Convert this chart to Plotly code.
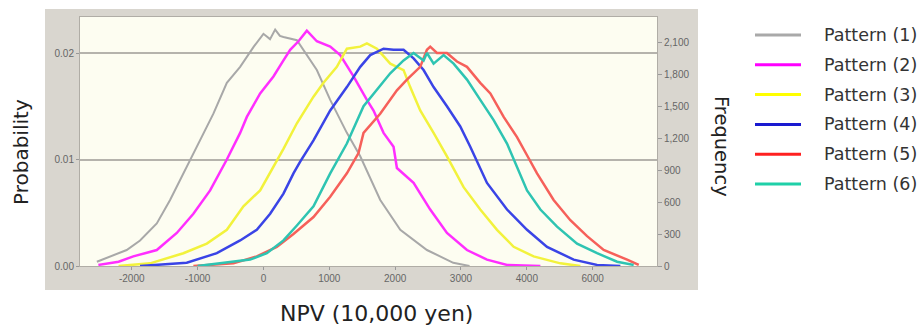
import plotly.graph_objects as go

# ---- data (probability vs NPV in 10,000 yen) ----
names = ["Pattern (1)", "Pattern (2)", "Pattern (3)", "Pattern (4)", "Pattern (5)", "Pattern (6)"]

p1_x = [-2530, -2330, -2077, -1874, -1620, -1418, -1240, -1114, -962, -760, -556, -354, -147, 0, 100, 178, 250, 304, 508, 811, 1014, 1267, 1470, 1774, 2078, 2483, 2883, 3130]
p1_y = [0.0004, 0.0009, 0.0015, 0.0024, 0.0040, 0.0062, 0.0084, 0.0100, 0.0118, 0.0143, 0.0172, 0.0187, 0.0206, 0.0218, 0.0213, 0.0222, 0.0216, 0.0215, 0.0212, 0.0184, 0.0156, 0.0125, 0.0103, 0.0062, 0.0034, 0.0015, 0.0003, 0.0]

p2_x = [-2507, -2200, -1976, -1620, -1316, -1064, -810, -556, -354, -252, -50, 152, 304, 406, 532, 659, 811, 1014, 1166, 1368, 1571, 1672, 1824, 1976, 2027, 2280, 2533, 2787, 3091, 3395, 3699, 4206]
p2_y = [0.0001, 0.0004, 0.0009, 0.0015, 0.0031, 0.0049, 0.0071, 0.0100, 0.0125, 0.0140, 0.0162, 0.0178, 0.0193, 0.0203, 0.0211, 0.0221, 0.0211, 0.0206, 0.0198, 0.0178, 0.0156, 0.0146, 0.0125, 0.0112, 0.0092, 0.0078, 0.0053, 0.0031, 0.0015, 0.0006, 0.0001, 0.0]

p3_x = [-2200, -1722, -1216, -860, -556, -304, -50, 152, 304, 508, 760, 912, 1115, 1267, 1470, 1571, 1723, 1926, 2128, 2229, 2381, 2584, 2787, 3040, 3293, 3547, 3800, 4103, 4509, 4813]
p3_y = [0.0, 0.00025, 0.0012, 0.0021, 0.0034, 0.0056, 0.0071, 0.0093, 0.0110, 0.0134, 0.0159, 0.0172, 0.0187, 0.0204, 0.0206, 0.0209, 0.0204, 0.0190, 0.0184, 0.0168, 0.0146, 0.0125, 0.0103, 0.0074, 0.0053, 0.0034, 0.0018, 0.0009, 0.00025, 0.0]

p4_x = [-1874, -1165, -708, -354, -101, 102, 304, 456, 558, 760, 1014, 1267, 1470, 1622, 1824, 1976, 2128, 2280, 2432, 2584, 2787, 2989, 3141, 3293, 3395, 3699, 4003, 4307, 4711, 5066, 5421]
p4_y = [0.0, 0.0003, 0.0012, 0.0024, 0.0034, 0.0049, 0.0068, 0.0087, 0.0098, 0.0118, 0.0146, 0.0168, 0.0187, 0.0198, 0.0204, 0.0203, 0.0203, 0.0195, 0.0184, 0.0168, 0.0150, 0.0131, 0.0112, 0.0092, 0.0078, 0.0053, 0.0034, 0.0018, 0.0006, 0.0001, 0.0]

p5_x = [-1064, -456, -101, 203, 456, 760, 1014, 1267, 1444, 1520, 1773, 2027, 2179, 2381, 2483, 2533, 2635, 2787, 2939, 3091, 3293, 3446, 3648, 3851, 4003, 4155, 4407, 4661, 4915, 5167, 5523, 5700]
p5_y = [0.0, 0.00025, 0.0009, 0.0018, 0.0030, 0.0046, 0.0065, 0.0087, 0.0106, 0.0125, 0.0143, 0.0165, 0.0175, 0.0187, 0.0203, 0.0206, 0.0200, 0.0200, 0.0192, 0.0187, 0.0172, 0.0162, 0.0140, 0.0121, 0.0104, 0.0087, 0.0062, 0.0043, 0.0028, 0.0015, 0.0006, 0.0001]

p6_x = [-1000, -202, 52, 304, 508, 760, 1014, 1267, 1520, 1672, 1926, 2128, 2280, 2432, 2483, 2584, 2736, 2888, 3091, 3293, 3496, 3699, 3851, 3950, 4003, 4206, 4459, 4763, 5067, 5371, 5623]
p6_y = [0.0, 0.0006, 0.0012, 0.0024, 0.0038, 0.0056, 0.0087, 0.0115, 0.0150, 0.0162, 0.0181, 0.0193, 0.0200, 0.0193, 0.0200, 0.0190, 0.0198, 0.0190, 0.0175, 0.0156, 0.0137, 0.0115, 0.0093, 0.0080, 0.0071, 0.0053, 0.0037, 0.0021, 0.0012, 0.0004, 0.0001]

x_tickvals = [-2000, -1000, 0, 1000, 2000, 3000, 4000, 5000]
x_ticktext = ["-2000", "-1000", "0", "1000", "2000", "3000", "4000", "6000"]
prob_tickvals = [0.0, 0.01, 0.02]
prob_ticktext = ["0.00", "0.01", "0.02"]
freq_tickvals = [0, 300, 600, 900, 1200, 1500, 1800, 2100]
freq_ticktext = ["0", "300", "600", "900", "1,200", "1,500", "1,800", "2,100"]

colors = ["#a8a8a8", "#ff2eff", "#f2f23c", "#3a44e6", "#f6605a", "#2ec4b2"]
legend_colors = ["#a9a9a9", "#ff00ff", "#ffff00", "#1a1ad0", "#ff2020", "#1fd0a8"]
widths = [2, 2.5, 2.5, 2.5, 2.5, 2.5]

series = [(p1_x, p1_y), (p2_x, p2_y), (p3_x, p3_y), (p4_x, p4_y), (p5_x, p5_y), (p6_x, p6_y)]

fig = go.Figure()
for i, (xs, ys) in enumerate(series):
    fig.add_trace(go.Scatter(x=xs, y=ys, mode="lines", name=names[i], showlegend=False,
                             line=dict(color=colors[i], width=widths[i])))
# empty trace to anchor the frequency axis
fig.add_trace(go.Scatter(x=[], y=[], yaxis="y2", showlegend=False, hoverinfo="skip"))

tick_font = dict(family="Liberation Sans, Arial", size=10, color="#666666")
title_font = "DejaVu Sans"

# plot area is 577 x 249 px at page offset (80, 17)
PW, PH = 577.0, 249.0
def px(xp):
    return (xp - 80) / PW
def py(yp):
    return (266 - yp) / PH

shapes = [
    dict(type="rect", xref="paper", yref="paper", x0=px(45), x1=px(698), y0=py(290), y1=py(9),
         fillcolor="#d9d6cf", line=dict(width=0), layer="below"),
    dict(type="rect", xref="paper", yref="paper", x0=0, x1=1, y0=0, y1=1,
         fillcolor="#fdfdf1", line=dict(width=0), layer="below"),
]
annotations = [
    dict(text="Probability", xref="paper", yref="paper", x=px(21), y=py(152),
         xanchor="center", yanchor="middle", textangle=-90, showarrow=False,
         font=dict(family=title_font, size=20, color="#222222")),
    dict(text="Frequency", xref="paper", yref="paper", x=px(722), y=py(146),
         xanchor="center", yanchor="middle", textangle=90, showarrow=False,
         font=dict(family=title_font, size=19.5, color="#222222")),
    dict(text="NPV (10,000 yen)", xref="paper", yref="paper", x=px(376), y=py(313),
         xanchor="center", yanchor="middle", showarrow=False,
         font=dict(family=title_font, size=22, color="#222222")),
]
for i, nm in enumerate(names):
    yy = 35 + i * 29.8
    shapes.append(dict(type="line", xref="paper", yref="paper", x0=px(755), x1=px(801),
                       y0=py(yy), y1=py(yy), line=dict(color=legend_colors[i], width=3)))
    annotations.append(dict(text=nm, xref="paper", yref="paper", x=px(822), y=py(yy),
                            xanchor="left", yanchor="middle", showarrow=False,
                            font=dict(family=title_font, size=17.5, color="#333333")))

fig.update_layout(
    width=920, height=326,
    margin=dict(l=80, r=263, t=17, b=60, autoexpand=False),
    paper_bgcolor="white",
    plot_bgcolor="#fdfdf1",
    font=dict(family="Open Sans", color="#222222"),
    xaxis=dict(range=[-2786, 5977], tickvals=x_tickvals, ticktext=x_ticktext,
               showgrid=False, zeroline=False, ticks="outside", ticklen=3,
               tickcolor="#999999", tickfont=tick_font,
               showline=True, linecolor="#b0ada6", linewidth=1, mirror=True),
    yaxis=dict(range=[0, 0.02338], tickvals=prob_tickvals, ticktext=prob_ticktext,
               showgrid=True, gridcolor="#b5b3ac", gridwidth=2, zeroline=False,
               ticks="outside", ticklen=3, tickcolor="#999999", tickfont=tick_font,
               showline=True, linecolor="#b0ada6", linewidth=1, mirror=True),
    yaxis2=dict(range=[0, 2338], overlaying="y", side="right", anchor="x",
                tickvals=freq_tickvals, ticktext=freq_ticktext, showgrid=False,
                zeroline=False, ticks="outside", ticklen=4, tickcolor="#999999",
                tickfont=tick_font),
    showlegend=False,
    shapes=shapes,
    annotations=annotations,
)

fig.write_html("out.html", config={"displayModeBar": False},
               post_script="document.body.style.margin='0';document.body.style.overflow='hidden';")
